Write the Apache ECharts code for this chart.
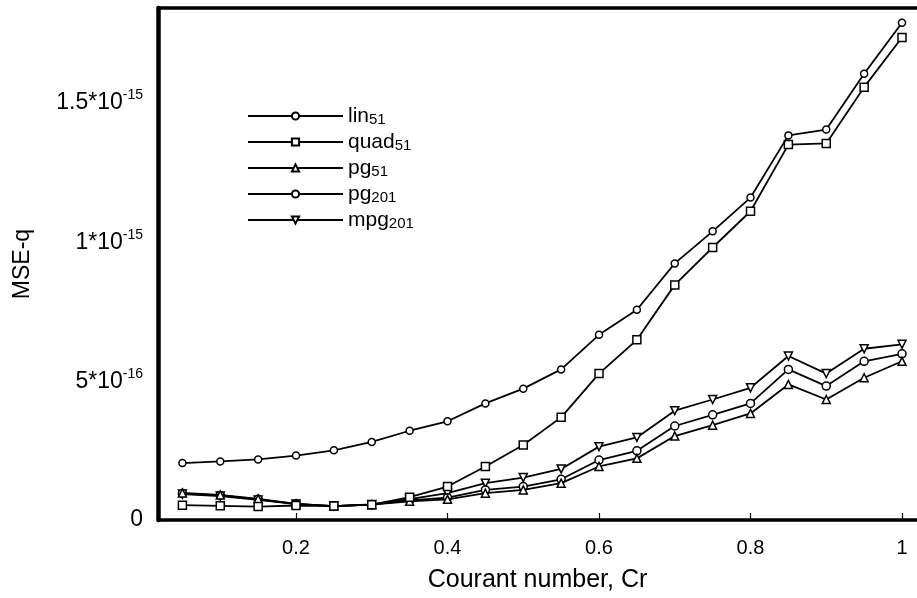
<!DOCTYPE html>
<html>
<head>
<meta charset="utf-8">
<script src="https://cdn.jsdelivr.net/npm/echarts@6/dist/echarts.min.js"></script>
<style>html,body{margin:0;padding:0;background:#fff}#c{width:917px;height:598px}</style>
</head>
<body>
<div id="c"></div>
<script>
var cr = [0.05,0.1,0.15,0.2,0.25,0.3,0.35,0.4,0.45,0.5,0.55,0.6,0.65,0.7,0.75,0.8,0.85,0.9,0.95,1.0];
var lin51  = [2.04e-16,2.10e-16,2.17e-16,2.31e-16,2.50e-16,2.80e-16,3.20e-16,3.54e-16,4.18e-16,4.71e-16,5.40e-16,6.64e-16,7.54e-16,9.20e-16,10.35e-16,11.56e-16,13.79e-16,14.00e-16,16.00e-16,17.83e-16];
var quad51 = [0.53e-16,0.51e-16,0.48e-16,0.52e-16,0.50e-16,0.55e-16,0.82e-16,1.20e-16,1.92e-16,2.69e-16,3.68e-16,5.25e-16,6.46e-16,8.43e-16,9.77e-16,11.07e-16,13.46e-16,13.50e-16,15.52e-16,17.30e-16];
var pg51   = [0.97e-16,0.90e-16,0.76e-16,0.58e-16,0.50e-16,0.55e-16,0.67e-16,0.74e-16,0.96e-16,1.08e-16,1.32e-16,1.92e-16,2.21e-16,3.01e-16,3.40e-16,3.82e-16,4.86e-16,4.32e-16,5.10e-16,5.69e-16];
var pg201  = [0.95e-16,0.88e-16,0.74e-16,0.58e-16,0.50e-16,0.55e-16,0.70e-16,0.80e-16,1.08e-16,1.20e-16,1.46e-16,2.15e-16,2.48e-16,3.37e-16,3.77e-16,4.18e-16,5.40e-16,4.80e-16,5.69e-16,5.96e-16];
var mpg201 = [0.93e-16,0.86e-16,0.72e-16,0.57e-16,0.50e-16,0.56e-16,0.75e-16,0.96e-16,1.32e-16,1.52e-16,1.83e-16,2.63e-16,2.96e-16,3.92e-16,4.32e-16,4.74e-16,5.88e-16,5.25e-16,6.14e-16,6.30e-16];
var xTicks = [0.2,0.4,0.6,0.8,1];
var xTickLabels = ['0.2','0.4','0.6','0.8','1'];
var yTicks = [0,5e-16,1e-15,1.5e-15];
var yTickLabels = ['0','{b|5*10}{s|-16}','{b|1*10}{s|-15}','{b|1.5*10}{s|-15}'];
var names = ['lin51','quad51','pg51','pg201','mpg201'];
var legendBase = {lin51:['lin','51'],quad51:['quad','51'],pg51:['pg','51'],pg201:['pg','201'],mpg201:['mpg','201']};

function pairs(ys){ return cr.map(function(x,i){return [x, ys[i]];}); }
var FONT = 'Liberation Sans, Arial, Helvetica, sans-serif';
var markers = [
  {sym:'circle', rot:0, size:7},
  {sym:'rect', rot:0, size:8},
  {sym:'triangle', rot:0, size:8},
  {sym:'circle', rot:0, size:8},
  {sym:'triangle', rot:180, size:8}
];
var datas = [lin51, quad51, pg51, pg201, mpg201];
var series = names.map(function(n,i){
  return {
    name:n, type:'line', data:pairs(datas[i]),
    symbol:markers[i].sym, symbolRotate:markers[i].rot, symbolSize:markers[i].size,
    showAllSymbol:true,
    lineStyle:{color:'#000', width:1.8},
    itemStyle:{color:'#fff', borderColor:'#000', borderWidth:1.5},
    emphasis:{disabled:true},
    animation:false, z: 10 - i
  };
});

var XMIN = 0.0178, XMAX = 1.0198;
var chart = echarts.init(document.getElementById('c'), null, {renderer:'canvas'});
chart.setOption({
  animation:false,
  backgroundColor:'#fff',
  grid:{left:158, top:8, right:0, bottom:76, show:false, containLabel:false},
  legend:{
    orient:'vertical', left:242, top:101, itemWidth:95, itemHeight:9, itemGap:5,
    data:names,
    textStyle:{color:'#000', fontFamily:FONT, fontSize:21,
      rich:{a:{fontSize:21, fontFamily:FONT, color:'#000', lineHeight:22, verticalAlign:'bottom'}, s:{fontSize:15, fontFamily:FONT, color:'#000', verticalAlign:'bottom', lineHeight:10}}},
    formatter:function(n){ var p = legendBase[n]; return '{a|'+p[0]+'}{s|'+p[1]+'}'; },
    inactiveColor:'#000'
  },
  xAxis:[{
    type:'value', min:XMIN, max:XMAX, position:'bottom',
    name:'Courant number, Cr', nameLocation:'middle', nameGap:48,
    nameTextStyle:{fontFamily:FONT, fontSize:25, color:'#000'},
    axisLine:{show:true, onZero:false, lineStyle:{color:'#000', width:3.5}},
    axisTick:{show:true, inside:true, length:7, customValues:xTicks, lineStyle:{color:'#000', width:1.2}},
    axisLabel:{customValues:xTicks, margin:18, fontFamily:FONT, fontSize:20, color:'#000',
      formatter:function(v){ var i = xTicks.indexOf(v); return i>=0 ? xTickLabels[i] : ''; }},
    splitLine:{show:false}
  },{
    type:'value', min:XMIN, max:XMAX, position:'top',
    axisLine:{show:true, onZero:false, lineStyle:{color:'#000', width:3.5}},
    axisTick:{show:false}, axisLabel:{show:false}, splitLine:{show:false}
  }],
  yAxis:{
    type:'value', min:0, max:18.357e-16,
    name:'MSE-q', nameLocation:'middle', nameGap:124, nameRotate:90,
    nameTextStyle:{fontFamily:FONT, fontSize:23, color:'#000'},
    axisLine:{show:true, lineStyle:{color:'#000', width:4.5}},
    axisTick:{show:false},
    axisLabel:{customValues:yTicks, margin:15, fontFamily:FONT, fontSize:23, color:'#000',
      formatter:function(v){ for (var i=0;i<yTicks.length;i++){ if (Math.abs(v-yTicks[i])<1e-20) return yTickLabels[i]; } return ''; },
      rich:{b:{fontSize:23, fontFamily:FONT, color:'#000', verticalAlign:'bottom', lineHeight:26}, s:{fontSize:14, fontFamily:FONT, color:'#000', verticalAlign:'top', lineHeight:26}}},
    splitLine:{show:false}
  },
  series:series
});
</script>
</body>
</html>
